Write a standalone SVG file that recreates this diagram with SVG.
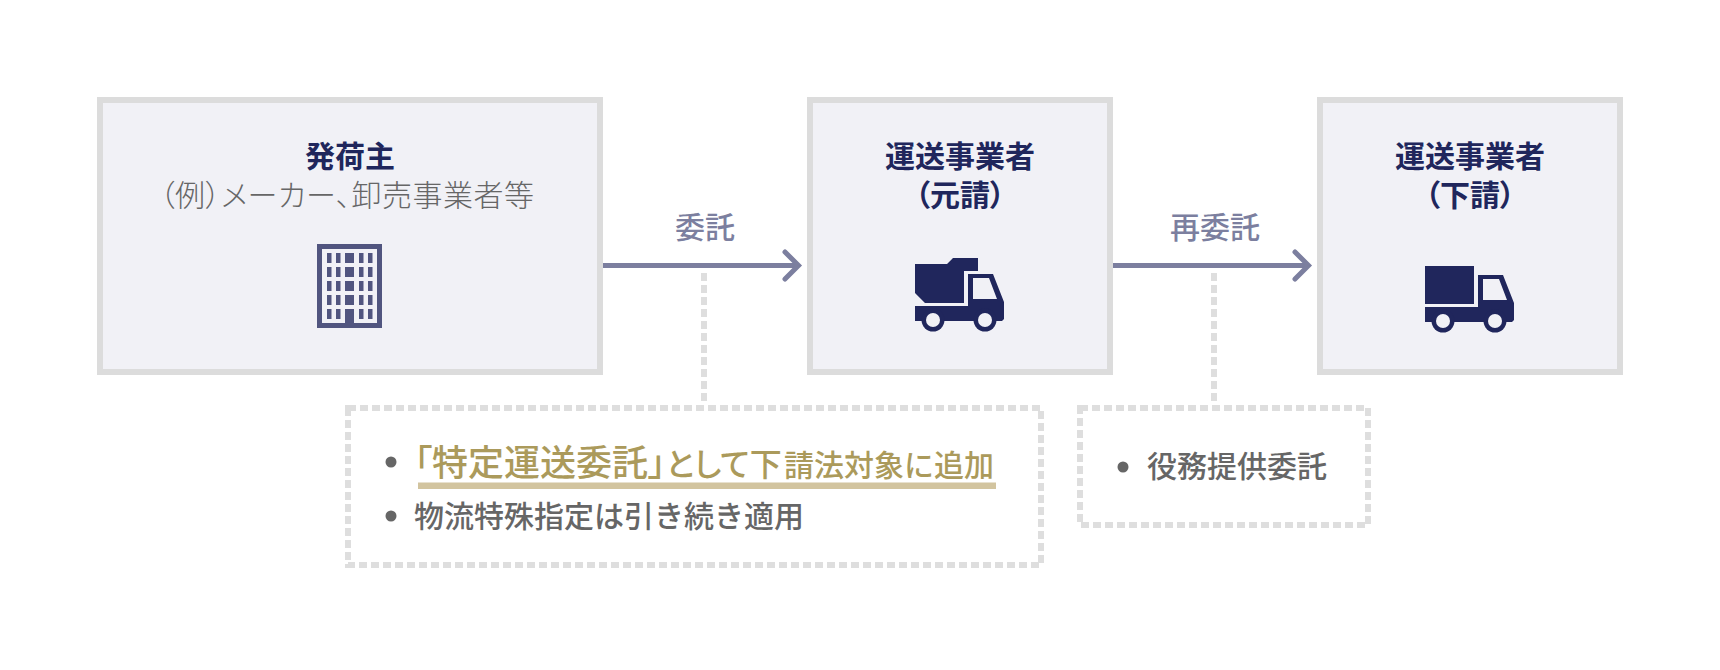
<svg xmlns="http://www.w3.org/2000/svg" width="1720" height="670" viewBox="0 0 1720 670">
<style>
text{font-family:"Noto Sans CJK JP","Noto Sans",sans-serif}
.pal{font-feature-settings:"palt"}
.box{fill:#f1f1f6;stroke:#dcdcdc;stroke-width:6}
.title{font-size:30px;font-weight:700;fill:#20265c;text-anchor:middle;font-feature-settings:"palt"}
.sub{font-size:30px;font-weight:300;fill:#666;text-anchor:middle;font-feature-settings:"palt";letter-spacing:.5px}
.lab{font-size:30px;font-weight:500;fill:#7c7f9f;text-anchor:middle}
.li{font-size:30px;font-weight:500;fill:#666}
.gold{fill:#ab9a5b;font-weight:500}
.arrow{fill:none;stroke:#7c7f9f;stroke-width:5}
.head{fill:none;stroke:#7c7f9f;stroke-width:5;stroke-linecap:round}
.dash{fill:none;stroke:#dedede;stroke-width:6;stroke-dasharray:8 4}
.truck{fill:#20265c}
.bld{fill:#51557f}
.hole{fill:#f1f1f6}
</style>
<g id="connectors">
<path class="arrow" d="M603 265.500H798"/><path class="head" d="M785 252L798.500 265.500L785 279"/>
<path class="arrow" d="M1113 265.500H1308"/><path class="head" d="M1295 252L1308.500 265.500L1295 279"/>
<path class="dash" d="M704 273V404"/>
<path class="dash" d="M1214 273V404"/>
</g>
<g id="shipper">
<rect class="box" x="100" y="100" width="500" height="272"/>
<text class="title" x="350" y="167">発荷主</text>
<text class="sub" x="347" y="206">（例）メーカー、卸売事業者等</text>
<path class="bld" fill-rule="evenodd" d="M317 244H382V328H317ZM322 249V323H345V309H354V323H377V249Z"/>
<g class="bld"><rect x="327" y="253" width="4.500" height="10"/><rect x="336" y="253" width="4.500" height="10"/><rect x="345" y="253" width="9" height="10"/><rect x="359" y="253" width="4.500" height="10"/><rect x="368" y="253" width="4.500" height="10"/>
<rect x="327" y="267" width="4.500" height="10"/><rect x="336" y="267" width="4.500" height="10"/><rect x="345" y="267" width="9" height="10"/><rect x="359" y="267" width="4.500" height="10"/><rect x="368" y="267" width="4.500" height="10"/>
<rect x="327" y="281" width="4.500" height="10"/><rect x="336" y="281" width="4.500" height="10"/><rect x="345" y="281" width="9" height="10"/><rect x="359" y="281" width="4.500" height="10"/><rect x="368" y="281" width="4.500" height="10"/>
<rect x="327" y="295" width="4.500" height="10"/><rect x="336" y="295" width="4.500" height="10"/><rect x="345" y="295" width="9" height="10"/><rect x="359" y="295" width="4.500" height="10"/><rect x="368" y="295" width="4.500" height="10"/>
<rect x="327" y="309" width="4.500" height="10"/><rect x="336" y="309" width="4.500" height="10"/><rect x="359" y="309" width="4.500" height="10"/><rect x="368" y="309" width="4.500" height="10"/></g>
</g>
<g id="prime">
<rect class="box" x="810" y="100" width="300" height="272"/>
<text class="title" x="960" y="167">運送事業者</text>
<text class="title" x="960" y="206">（元請）</text>
<path class="truck" d="M915 264H947L953 258H978V271H964V303H925L915 293Z"/>
<path class="truck" fill-rule="evenodd" d="M968 274H993L1004 302V319L1002 321H915V306H968ZM973 278V299H997L989 278Z"/>
<circle class="truck" cx="933" cy="320" r="11.500"/><circle class="hole" cx="933" cy="320" r="7"/>
<circle class="truck" cx="985" cy="320" r="11.500"/><circle class="hole" cx="985" cy="320" r="7"/>
</g>
<g id="sub">
<rect class="box" x="1320" y="100" width="300" height="272"/>
<text class="title" x="1470" y="167">運送事業者</text>
<text class="title" x="1470" y="206">（下請）</text>
<rect class="truck" x="1425" y="266" width="49" height="38"/>
<path class="truck" fill-rule="evenodd" d="M1478 275H1503L1514 303V320L1512 322H1425V307H1478ZM1483 279V300H1507L1499 279Z"/>
<circle class="truck" cx="1443" cy="321" r="11.500"/><circle class="hole" cx="1443" cy="321" r="7"/>
<circle class="truck" cx="1495" cy="321" r="11.500"/><circle class="hole" cx="1495" cy="321" r="7"/>
</g>
<g id="label-itaku"><text class="lab" x="705" y="238">委託</text></g>
<g id="label-saiitaku"><text class="lab" x="1215" y="238">再委託</text></g>
<g id="note1">
<rect class="dash" x="348" y="408" width="693" height="157"/>
<rect x="418" y="482.500" width="578" height="6.500" fill="#d2c49f"/>
<circle cx="391" cy="462" r="5.500" fill="#666"/>
<circle cx="391" cy="516" r="5.500" fill="#666"/>
<text class="li gold pal" x="414" y="476"><tspan font-size="36">「特定運送委託」</tspan><tspan font-size="32">として下</tspan></text>
<text class="li gold" x="784" y="476">請法対象に追加</text>
<text class="li" x="414" y="527">物流特殊指定は引き続き適用</text>
</g>
<g id="note2">
<rect class="dash" x="1080" y="408" width="288" height="117"/>
<circle cx="1123" cy="467" r="5.500" fill="#666"/>
<text class="li" x="1147" y="477">役務提供委託</text>
</g>
</svg>
